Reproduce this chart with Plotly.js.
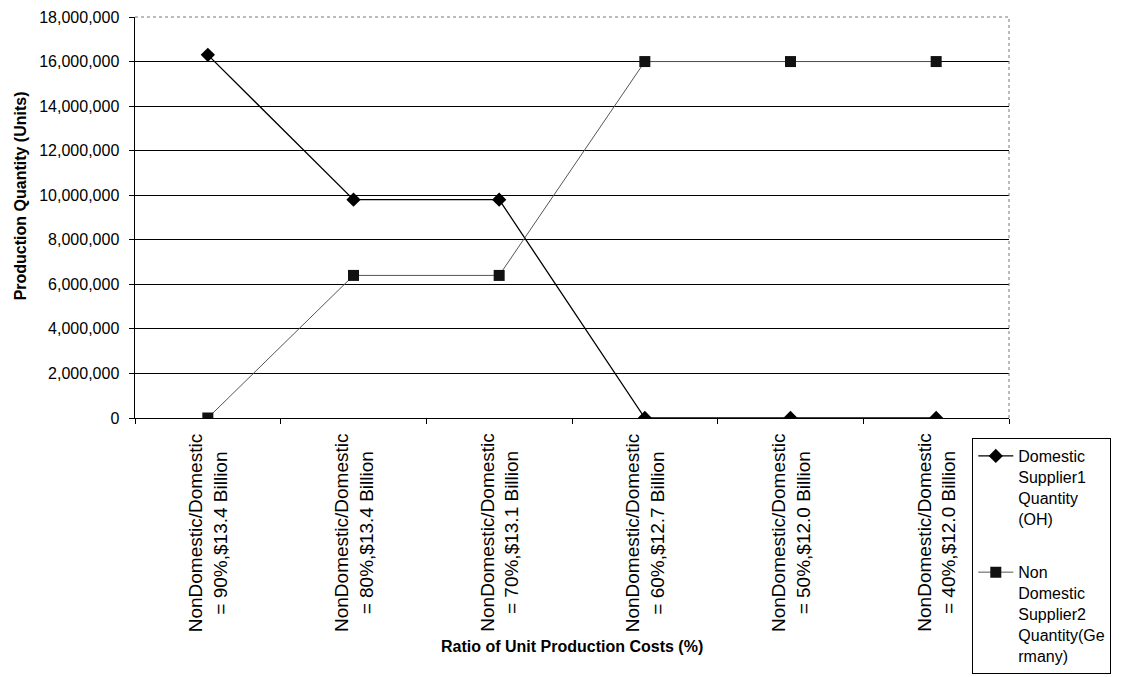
<!DOCTYPE html>
<html>
<head>
<meta charset="utf-8">
<script src="https://cdn.plot.ly/plotly-3.0.1.min.js"></script>
<style>
  html, body { margin: 0; padding: 0; background: #fff; }
  #chart { width: 1125px; height: 677px; }
</style>
</head>
<body>
<div id="chart"></div>
<script>
// Cost-ratio scenarios on the category axis
const categories = [
  "NonDomestic/Domestic<br>= 90%,$13.4 Billion",
  "NonDomestic/Domestic<br>= 80%,$13.4 Billion",
  "NonDomestic/Domestic<br>= 70%,$13.1 Billion",
  "NonDomestic/Domestic<br>= 60%,$12.7 Billion",
  "NonDomestic/Domestic<br>= 50%,$12.0 Billion",
  "NonDomestic/Domestic<br>= 40%,$12.0 Billion"
];

// Production quantities (units) per supplier
const domesticQty = [16300000, 9800000, 9800000, 0, 0, 0];
const nonDomesticQty = [0, 6400000, 6400000, 16000000, 16000000, 16000000];

const seriesNames = [
  "Domestic<br>Supplier1<br>Quantity<br>(OH)",
  "Non<br>Domestic<br>Supplier2<br>Quantity(Ge<br>rmany)"
];

const yTicks = [0, 2000000, 4000000, 6000000, 8000000, 10000000, 12000000, 14000000, 16000000, 18000000];

const xTitle = "<b>Ratio of Unit Production Costs (%)</b>";
const yTitle = "<b>Production Quantity (Units)</b>";

const FONT = "Liberation Sans, Arial, sans-serif";

const traces = [
  {
    x: categories,
    y: domesticQty,
    name: seriesNames[0],
    legendgroup: "domestic",
    type: "scatter",
    mode: "lines+markers",
    line: { color: "#000", width: 1.3 },
    marker: { symbol: "diamond", size: 11, color: "#000" }
  },
  {
    x: categories,
    y: nonDomesticQty,
    name: seriesNames[1],
    legendgroup: "nondomestic",
    type: "scatter",
    mode: "lines+markers",
    line: { color: "#555", width: 1 },
    marker: { symbol: "square", size: 11, color: "#111" }
  }
];

// Category labels: vertical, two centred lines under each category
const categoryLabels = categories.map(c => ({
  x: c,
  y: 0,
  xref: "x",
  yref: "paper",
  text: c,
  textangle: -90,
  showarrow: false,
  align: "center",
  xanchor: "center",
  yanchor: "top",
  yshift: -13,
  font: { family: FONT, size: 19, color: "#000" }
}));

// Axis titles
const titleNotes = [
  {
    text: xTitle, xref: "paper", yref: "paper", x: 0.5, y: -0.571,
    xanchor: "center", yanchor: "middle", showarrow: false,
    font: { family: FONT, size: 16, color: "#000" }
  },
  {
    text: yTitle, xref: "paper", yref: "paper", x: -0.131, y: 0.554,
    xanchor: "center", yanchor: "middle", textangle: -90, showarrow: false,
    font: { family: FONT, size: 16, color: "#000" }
  }
];

const layout = {
  width: 1125,
  height: 677,
  margin: { l: 135, r: 116, t: 17, b: 259, autoexpand: false },
  paper_bgcolor: "#fff",
  plot_bgcolor: "#fff",
  font: { family: FONT, color: "#000" },
  showlegend: true,
  legend: {
    x: 0.958,
    y: -0.05,
    xanchor: "left",
    yanchor: "top",
    bgcolor: "#fff",
    bordercolor: "#000",
    borderwidth: 1,
    font: { family: FONT, size: 16, color: "#000" },
    tracegroupgap: 30,
    valign: "top",
    itemwidth: 35,
    entrywidth: 112
  },
  xaxis: {
    type: "category",
    range: [-0.5, 5.5],
    automargin: false,
    showticklabels: false,
    showline: true,
    linecolor: "#000",
    linewidth: 1,
    ticks: "outside",
    tickson: "boundaries",
    ticklen: 5,
    tickcolor: "#000",
    showgrid: false
  },
  yaxis: {
    range: [0, 18000000],
    automargin: false,
    tickvals: yTicks,
    tickformat: ",",
    tickfont: { family: FONT, size: 16, color: "#000" },
    ticklabelstandoff: 6,
    showline: true,
    linecolor: "#000",
    linewidth: 1.5,
    ticks: "outside",
    ticklen: 5,
    tickcolor: "#000",
    showgrid: true,
    gridcolor: "#000",
    gridwidth: 1,
    zeroline: true,
    zerolinecolor: "#000",
    zerolinewidth: 1
  },
  annotations: categoryLabels.concat(titleNotes),
  shapes: [
    {
      type: "line", xref: "paper", yref: "paper",
      x0: 1, x1: 1, y0: 0, y1: 1,
      line: { color: "#777", width: 1, dash: "dot" }
    },
    {
      type: "line", xref: "paper", yref: "paper",
      x0: 0, x1: 1, y0: 1, y1: 1,
      line: { color: "#777", width: 1, dash: "dot" }
    }
  ]
};

Plotly.newPlot("chart", traces, layout, { displayModeBar: false, staticPlot: true });
</script>
</body>
</html>
